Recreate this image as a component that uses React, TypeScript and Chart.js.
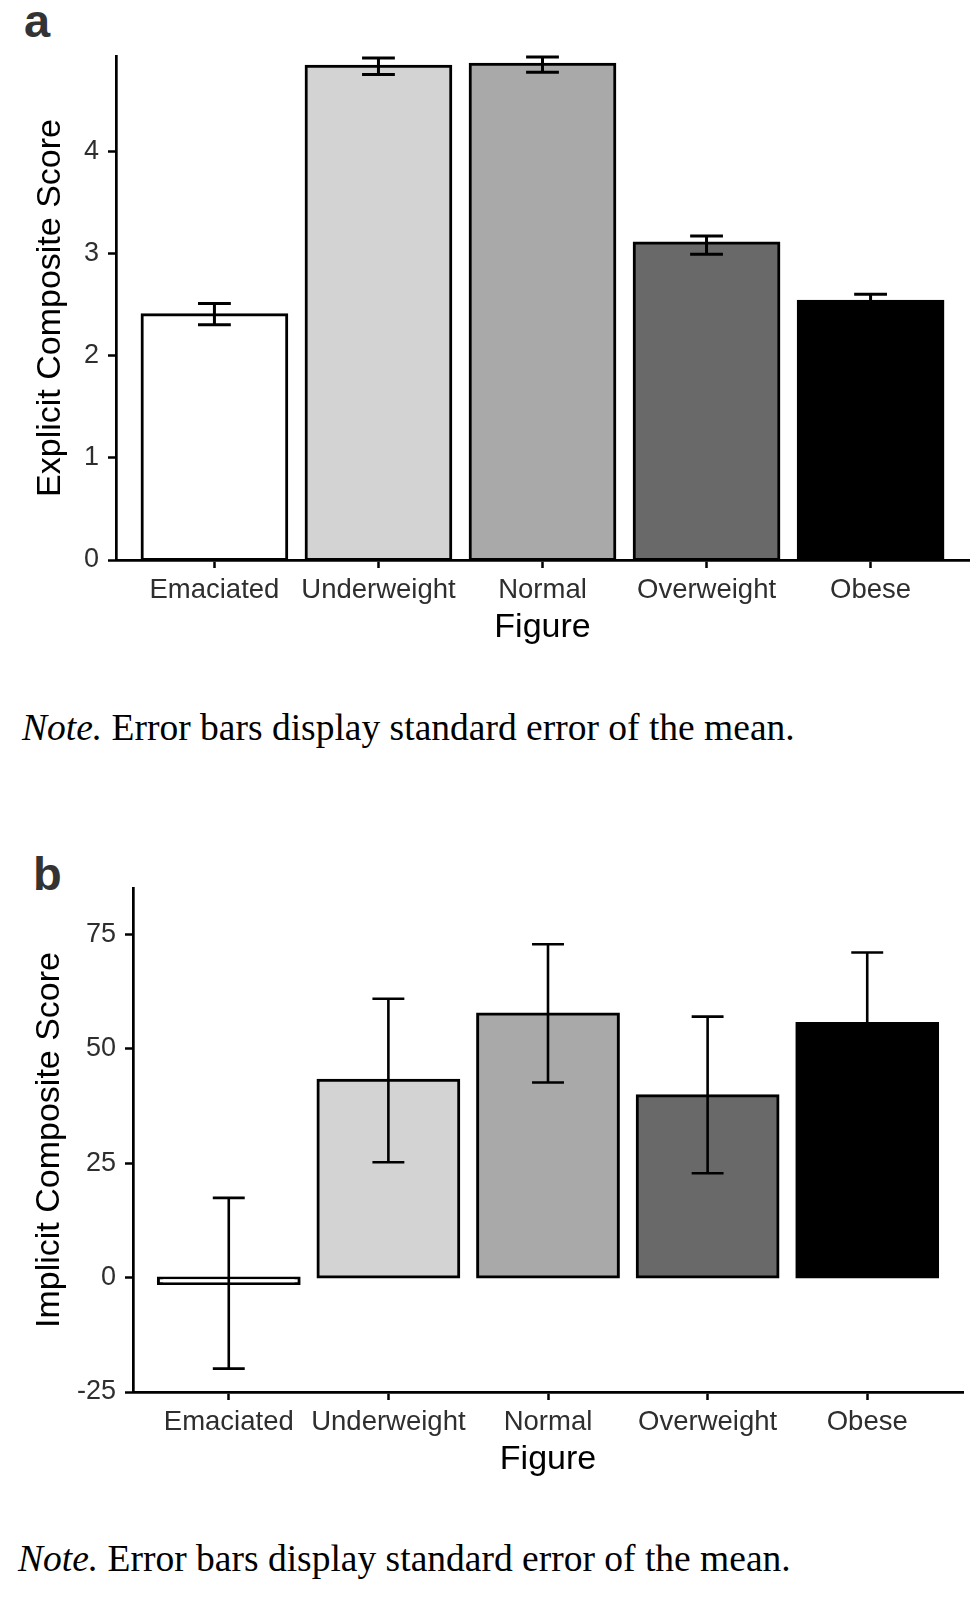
import React, { useEffect, useRef } from "react"
import { Chart, registerables } from "chart.js"

Chart.register(...registerables)

const figures = ["Emaciated", "Underweight", "Normal", "Overweight", "Obese"]
const barColors = ["#ffffff", "#d3d3d3", "#a9a9a9", "#696969", "#000000"]

// panel a: explicit scores (mean, lower/upper end of SE bar)
const explicitMeans = [2.4, 4.83, 4.85, 3.1, 2.53]
const explicitLow = [2.3, 4.75, 4.77, 2.99, 2.45]
const explicitHigh = [2.51, 4.91, 4.92, 3.17, 2.6]
const explicitTicks = [0, 1, 2, 3, 4]

// panel b: implicit scores
const implicitMeans = [-1.3, 43.1, 57.6, 39.7, 55.5]
const implicitLow = [-19.9, 25.2, 42.6, 22.8, 40.0]
const implicitHigh = [17.4, 60.9, 72.8, 57.0, 71.0]
const implicitTicks = [-25, 0, 25, 50, 75]

const SANS = "'Liberation Sans', Arial, sans-serif"
const SERIF = "'Liberation Serif', 'Times New Roman', serif"

function errorBarPlugin(low: number[], high: number[], lineWidth: number) {
  return {
    id: "errorBars",
    afterDatasetsDraw(chart: Chart) {
      const { ctx } = chart
      const x = chart.scales.x
      const y = chart.scales.y
      ctx.save()
      ctx.strokeStyle = "#000"
      ctx.lineWidth = lineWidth
      low.forEach((lo, i) => {
        const cx = x.getPixelForValue(i + 1)
        const half = (x.getPixelForValue(i + 1.1) - x.getPixelForValue(i + 0.9)) / 2
        const yl = y.getPixelForValue(lo)
        const yh = y.getPixelForValue(high[i])
        ctx.beginPath()
        ctx.moveTo(cx, yl)
        ctx.lineTo(cx, yh)
        ctx.moveTo(cx - half, yl)
        ctx.lineTo(cx + half, yl)
        ctx.moveTo(cx - half, yh)
        ctx.lineTo(cx + half, yh)
        ctx.stroke()
      })
      ctx.restore()
    },
  }
}

interface PanelProps {
  means: number[]
  low: number[]
  high: number[]
  ticks: number[]
  yMin: number
  yMax: number
  yTitle: string
  top: number
  height: number
  padTop: number
  padRight: number
  axisWidth: number
  titlePad: number
  errWidth: number
}

function BarPanel(p: PanelProps) {
  const canvasRef = useRef<HTMLCanvasElement>(null)

  useEffect(() => {
    if (!canvasRef.current) return
    const chart = new Chart(canvasRef.current, {
      type: "bar",
      data: {
        datasets: [
          {
            data: p.means.map((v, i) => ({ x: i + 1, y: v })),
            backgroundColor: barColors,
            borderColor: "#000",
            borderWidth: 3,
            borderSkipped: false,
            // push the outline half outwards, like ggplot's centred stroke
            inflateAmount: 1.5,
            barPercentage: 0.882,
            categoryPercentage: 1,
          },
        ],
      },
      options: {
        animation: false,
        responsive: true,
        maintainAspectRatio: false,
        layout: { padding: { top: p.padTop, right: p.padRight, left: 0, bottom: 0 } },
        plugins: { legend: { display: false }, tooltip: { enabled: false } },
        scales: {
          x: {
            type: "linear",
            min: 0.4,
            max: 5.6,
            offset: false,
            afterBuildTicks: (s: any) => {
              s.ticks = figures.map((_, i) => ({ value: i + 1 }))
            },
            afterFit: (s: any) => {
              s.height = 85
            },
            ticks: {
              callback: (v: any) => figures[Number(v) - 1] ?? "",
              autoSkip: false,
              maxRotation: 0,
              padding: 6,
              color: "#2e2e2e",
              font: { family: SANS, size: 27.5 },
            },
            grid: {
              offset: false,
              drawOnChartArea: false,
              tickLength: 8,
              tickWidth: 2.5,
              tickColor: "#000",
            },
            border: { display: true, color: "#000", width: 2.7 },
            title: {
              display: true,
              text: "Figure",
              color: "#000",
              font: { family: SANS, size: 34, lineHeight: 1 },
              padding: { top: 0, bottom: 0 },
            },
          },
          y: {
            min: p.yMin,
            max: p.yMax,
            afterBuildTicks: (s: any) => {
              s.ticks = p.ticks.map((v) => ({ value: v }))
            },
            afterFit: (s: any) => {
              s.width = p.axisWidth
            },
            ticks: {
              padding: 9,
              color: "#2e2e2e",
              font: { family: SANS, size: 27 },
            },
            grid: { drawOnChartArea: false, tickLength: 8, tickWidth: 2.5, tickColor: "#000" },
            border: { display: true, color: "#000", width: 2.7 },
            title: {
              display: true,
              text: p.yTitle,
              color: "#000",
              font: { family: SANS, size: 34, lineHeight: 1 },
              padding: { top: p.titlePad, bottom: 0 },
            },
          },
        },
      },
      plugins: [errorBarPlugin(p.low, p.high, p.errWidth)],
    })
    return () => chart.destroy()
  }, [])

  return (
    <div style={{ position: "absolute", left: 0, top: p.top, width: 980, height: p.height }}>
      <canvas ref={canvasRef} />
    </div>
  )
}

const panelLetter: React.CSSProperties = {
  position: "absolute",
  fontFamily: SANS,
  fontWeight: "bold",
  fontSize: 47,
  lineHeight: 1,
  color: "#333",
}

const note: React.CSSProperties = {
  position: "absolute",
  fontFamily: SERIF,
  fontSize: 37.5,
  lineHeight: 1,
  color: "#000",
  whiteSpace: "nowrap",
}

export default function App() {
  return (
    <div style={{ position: "absolute", left: 0, top: 0, width: 980, height: 1604, background: "#fff" }}>
      <div style={{ ...panelLetter, left: 24, top: -3 }}>a</div>
      <BarPanel
        means={explicitMeans}
        low={explicitLow}
        high={explicitHigh}
        ticks={explicitTicks}
        yMin={0}
        yMax={4.93}
        yTitle="Explicit Composite Score"
        top={0}
        height={645}
        padTop={56}
        padRight={11}
        axisWidth={116}
        titlePad={34}
        errWidth={3}
      />
      <div style={{ ...note, left: 22, top: 709 }}>
        <i>Note.</i> Error bars display standard error of the mean.
      </div>

      <div style={{ ...panelLetter, left: 33, top: 850 }}>b</div>
      <BarPanel
        means={implicitMeans}
        low={implicitLow}
        high={implicitHigh}
        ticks={implicitTicks}
        yMin={-25}
        yMax={85.1}
        yTitle="Implicit Composite Score"
        top={800}
        height={677}
        padTop={88}
        padRight={17}
        axisWidth={133}
        titlePad={33}
        errWidth={2.6}
      />
      <div style={{ ...note, left: 18, top: 1540 }}>
        <i>Note.</i> Error bars display standard error of the mean.
      </div>
    </div>
  )
}
